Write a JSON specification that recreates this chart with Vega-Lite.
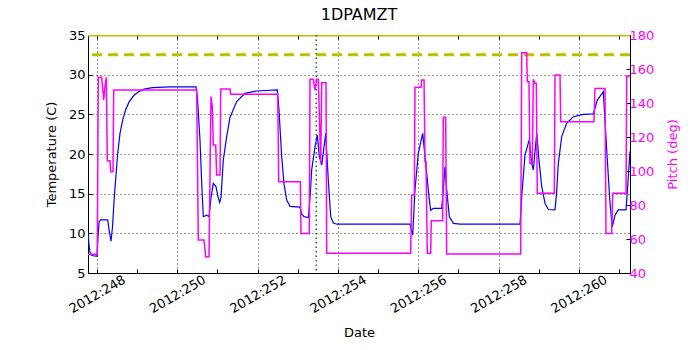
{
  "$schema": "https://vega.github.io/schema/vega-lite/v6.json",
  "width": 542,
  "height": 238,
  "autosize": {"type": "none"},
  "padding": {"left": 88, "top": 35, "right": 70, "bottom": 77},
  "background": "white",
  "title": {"text": "1DPAMZT", "fontSize": 16, "font": "DejaVu Sans", "fontWeight": "normal", "offset": 6, "color": "black"},
  "config": {
    "font": "DejaVu Sans",
    "view": {"stroke": "black", "strokeWidth": 1},
    "axis": {
      "labelFont": "DejaVu Sans", "titleFont": "DejaVu Sans",
      "labelFontSize": 13, "titleFontSize": 13, "titleFontWeight": "normal",
      "labelColor": "black", "titleColor": "black",
      "domain": false, "tickColor": "black", "tickSize": -4, "tickWidth": 1,
      "gridColor": "black", "gridDash": [1, 3], "gridOpacity": 1, "gridWidth": 0.8,
      "labelOverlap": false, "labelFlush": false
    }
  },
  "datasets": {
    "temp": [
      {"day": 247.776, "temp": 10.2}, {"day": 247.801, "temp": 8.5}, {"day": 247.826, "temp": 7.6},
      {"day": 247.875, "temp": 7.2}, {"day": 248.0, "temp": 7.1}, {"day": 248.025, "temp": 9.5},
      {"day": 248.05, "temp": 11.4}, {"day": 248.087, "temp": 11.7}, {"day": 248.267, "temp": 11.7},
      {"day": 248.299, "temp": 10.5}, {"day": 248.349, "temp": 9.0}, {"day": 248.386, "temp": 10.8},
      {"day": 248.431, "temp": 14.6}, {"day": 248.516, "temp": 20.1}, {"day": 248.573, "temp": 22.6},
      {"day": 248.64, "temp": 24.3}, {"day": 248.715, "temp": 25.6}, {"day": 248.804, "temp": 26.6},
      {"day": 248.922, "temp": 27.4}, {"day": 249.054, "temp": 27.9}, {"day": 249.196, "temp": 28.2},
      {"day": 249.387, "temp": 28.36}, {"day": 249.801, "temp": 28.45}, {"day": 250.466, "temp": 28.45},
      {"day": 250.503, "temp": 27.0}, {"day": 250.565, "temp": 21.8}, {"day": 250.615, "temp": 15.5},
      {"day": 250.648, "temp": 12.1}, {"day": 250.732, "temp": 12.3}, {"day": 250.79, "temp": 12.1},
      {"day": 250.839, "temp": 14.5}, {"day": 250.897, "temp": 16.3}, {"day": 250.964, "temp": 15.9},
      {"day": 251.014, "temp": 14.6}, {"day": 251.056, "temp": 13.9}, {"day": 251.088, "temp": 14.5},
      {"day": 251.146, "temp": 19.25}, {"day": 251.23, "temp": 22.2}, {"day": 251.313, "temp": 24.6},
      {"day": 251.479, "temp": 26.6}, {"day": 251.686, "temp": 27.65}, {"day": 251.978, "temp": 27.94},
      {"day": 252.491, "temp": 28.07}, {"day": 252.533, "temp": 25.5}, {"day": 252.6, "temp": 19.7},
      {"day": 252.658, "temp": 16.2}, {"day": 252.725, "temp": 14.2}, {"day": 252.807, "temp": 13.4},
      {"day": 253.056, "temp": 13.3}, {"day": 253.106, "temp": 12.4}, {"day": 253.156, "temp": 12.1},
      {"day": 253.268, "temp": 12.0}, {"day": 253.318, "temp": 15.5}, {"day": 253.347, "temp": 18.0},
      {"day": 253.43, "temp": 20.9}, {"day": 253.487, "temp": 22.4}, {"day": 253.537, "temp": 19.7},
      {"day": 253.597, "temp": 18.6}, {"day": 253.696, "temp": 22.6}, {"day": 253.761, "temp": 16.7},
      {"day": 253.821, "temp": 12.1}, {"day": 253.886, "temp": 11.3}, {"day": 253.978, "temp": 11.15},
      {"day": 255.796, "temp": 11.15}, {"day": 255.863, "temp": 9.8}, {"day": 255.92, "temp": 15.5},
      {"day": 256.003, "temp": 20.1}, {"day": 256.112, "temp": 22.6}, {"day": 256.187, "temp": 18.8},
      {"day": 256.269, "temp": 14.6}, {"day": 256.311, "temp": 12.9}, {"day": 256.376, "temp": 13.15},
      {"day": 256.585, "temp": 13.15}, {"day": 256.625, "temp": 15.5}, {"day": 256.668, "temp": 18.4},
      {"day": 256.71, "temp": 15.5}, {"day": 256.775, "temp": 12.1}, {"day": 256.874, "temp": 11.25},
      {"day": 257.041, "temp": 11.15}, {"day": 258.536, "temp": 11.15}, {"day": 258.578, "temp": 14.6},
      {"day": 258.66, "temp": 19.9}, {"day": 258.767, "temp": 21.8}, {"day": 258.827, "temp": 18.8},
      {"day": 258.867, "temp": 18.0}, {"day": 258.952, "temp": 22.6}, {"day": 259.009, "temp": 19.2},
      {"day": 259.076, "temp": 15.9}, {"day": 259.158, "temp": 13.8}, {"day": 259.241, "temp": 13.0},
      {"day": 259.407, "temp": 12.95}, {"day": 259.445, "temp": 15.0}, {"day": 259.49, "temp": 18.8},
      {"day": 259.574, "temp": 22.2}, {"day": 259.699, "temp": 23.9}, {"day": 259.863, "temp": 24.7},
      {"day": 260.112, "temp": 25.0}, {"day": 260.361, "temp": 25.05}, {"day": 260.461, "temp": 26.8},
      {"day": 260.61, "temp": 27.85}, {"day": 260.695, "temp": 20.5}, {"day": 260.777, "temp": 13.8},
      {"day": 260.834, "temp": 10.8}, {"day": 260.902, "temp": 12.3}, {"day": 260.984, "temp": 12.95},
      {"day": 261.176, "temp": 12.95}, {"day": 261.233, "temp": 17.1}, {"day": 261.275, "temp": 20.3}
    ],
    "pitch": [
      {"day": 247.776, "pitch": 51}, {"day": 248.007, "pitch": 51}, {"day": 248.032, "pitch": 155.1},
      {"day": 248.117, "pitch": 155.1}, {"day": 248.167, "pitch": 141.8}, {"day": 248.199, "pitch": 150},
      {"day": 248.232, "pitch": 155.1}, {"day": 248.257, "pitch": 106.1}, {"day": 248.324, "pitch": 106.1},
      {"day": 248.341, "pitch": 99.6}, {"day": 248.398, "pitch": 99.6}, {"day": 248.416, "pitch": 147.6},
      {"day": 250.483, "pitch": 147.6}, {"day": 250.523, "pitch": 59.4}, {"day": 250.665, "pitch": 59.4},
      {"day": 250.707, "pitch": 49.6}, {"day": 250.79, "pitch": 49.6}, {"day": 250.839, "pitch": 143.7},
      {"day": 250.872, "pitch": 137.8}, {"day": 250.897, "pitch": 115.3}, {"day": 250.956, "pitch": 115.3},
      {"day": 250.981, "pitch": 97.6}, {"day": 251.064, "pitch": 97.6}, {"day": 251.081, "pitch": 148.2},
      {"day": 251.313, "pitch": 148.2}, {"day": 251.33, "pitch": 145.1}, {"day": 252.501, "pitch": 145.1},
      {"day": 252.526, "pitch": 93.7}, {"day": 253.064, "pitch": 93.7}, {"day": 253.081, "pitch": 63.3},
      {"day": 253.288, "pitch": 63.3}, {"day": 253.305, "pitch": 153.9}, {"day": 253.387, "pitch": 153.9},
      {"day": 253.43, "pitch": 147.6}, {"day": 253.472, "pitch": 153.9}, {"day": 253.512, "pitch": 153.9},
      {"day": 253.572, "pitch": 104.5}, {"day": 253.597, "pitch": 151.9}, {"day": 253.704, "pitch": 151.9},
      {"day": 253.721, "pitch": 51.6}, {"day": 255.813, "pitch": 51.6}, {"day": 255.838, "pitch": 85.9},
      {"day": 255.903, "pitch": 85.9}, {"day": 255.92, "pitch": 149.2}, {"day": 256.07, "pitch": 149.2},
      {"day": 256.087, "pitch": 153.5}, {"day": 256.145, "pitch": 153.5}, {"day": 256.17, "pitch": 105.5},
      {"day": 256.194, "pitch": 105.5}, {"day": 256.227, "pitch": 51.6}, {"day": 256.311, "pitch": 51.6},
      {"day": 256.326, "pitch": 70.8}, {"day": 256.609, "pitch": 70.8}, {"day": 256.625, "pitch": 131.6},
      {"day": 256.684, "pitch": 131.6}, {"day": 256.709, "pitch": 51.2}, {"day": 258.552, "pitch": 51.2},
      {"day": 258.578, "pitch": 169.6}, {"day": 258.702, "pitch": 169.6}, {"day": 258.717, "pitch": 152.5},
      {"day": 258.759, "pitch": 152.5}, {"day": 258.784, "pitch": 104.5}, {"day": 258.842, "pitch": 104.5},
      {"day": 258.867, "pitch": 153.9}, {"day": 258.909, "pitch": 151.6}, {"day": 258.942, "pitch": 151.6},
      {"day": 258.966, "pitch": 86.9}, {"day": 259.39, "pitch": 86.9}, {"day": 259.407, "pitch": 156.5},
      {"day": 259.532, "pitch": 156.5}, {"day": 259.549, "pitch": 129.0}, {"day": 260.378, "pitch": 129.0},
      {"day": 260.403, "pitch": 148.6}, {"day": 260.652, "pitch": 148.6}, {"day": 260.677, "pitch": 63.3},
      {"day": 260.819, "pitch": 63.3}, {"day": 260.844, "pitch": 86.9}, {"day": 261.176, "pitch": 86.9},
      {"day": 261.193, "pitch": 155.9}, {"day": 261.275, "pitch": 155.9}
    ],
    "limits": [{"temp": 32.5, "kind": "planning"}],
    "edge": [{"temp": 35, "kind": "caution"}],
    "marker": [{"day": 253.46}]
  },
  "layer": [
    {
      "layer": [
        {
          "data": {"name": "temp"},
          "mark": {"type": "line", "color": "#0000ff", "strokeWidth": 1.2, "clip": true},
          "encoding": {
            "x": {
              "field": "day", "type": "quantitative",
              "scale": {"domain": [247.776, 261.275], "nice": false, "zero": false},
              "axis": {
                "orient": "bottom", "title": "Date",
                "values": [248, 249, 250, 251, 252, 253, 254, 255, 256, 257, 258, 259, 260, 261],
                "labelExpr": "datum.value % 2 === 0 ? '2012:' + datum.value : ''",
                "labelAngle": -30, "labelAlign": "center", "labelBaseline": "middle",
                "labelPadding": 25, "titlePadding": 11,
                "grid": true,
                "gridOpacity": {"condition": {"test": "datum.value % 2 === 0", "value": 1}, "value": 0}
              }
            },
            "y": {
              "field": "temp", "type": "quantitative",
              "scale": {"domain": [5, 35], "nice": false, "zero": false},
              "axis": {"orient": "left", "title": "Temperature (C)", "values": [5, 10, 15, 20, 25, 30, 35], "grid": true, "labelPadding": 7, "titlePadding": 10}
            }
          }
        },
        {
          "data": {"name": "limits"},
          "mark": {"type": "rule", "color": "#bfbf00", "strokeWidth": 3, "strokeDash": [10, 6], "clip": true},
          "encoding": {
            "y": {
              "field": "temp", "type": "quantitative",
              "scale": {"domain": [5, 35], "nice": false, "zero": false},
              "axis": {"orient": "left", "title": "Temperature (C)", "values": [5, 10, 15, 20, 25, 30, 35], "grid": true, "labelPadding": 7, "titlePadding": 10}
            }
          }
        },
        {
          "data": {"name": "edge"},
          "mark": {"type": "rule", "color": "#bfbf00", "strokeWidth": 3, "clip": true},
          "encoding": {
            "y": {
              "field": "temp", "type": "quantitative",
              "scale": {"domain": [5, 35], "nice": false, "zero": false},
              "axis": {"orient": "left", "title": "Temperature (C)", "values": [5, 10, 15, 20, 25, 30, 35], "grid": true, "labelPadding": 7, "titlePadding": 10}
            }
          }
        },
        {
          "data": {"name": "marker"},
          "mark": {"type": "rule", "color": "#008000", "strokeWidth": 1.5, "strokeDash": [1.5, 3], "clip": true},
          "encoding": {
            "x": {
              "field": "day", "type": "quantitative",
              "scale": {"domain": [247.776, 261.275], "nice": false, "zero": false},
              "axis": {
                "orient": "bottom", "title": "Date",
                "values": [248, 249, 250, 251, 252, 253, 254, 255, 256, 257, 258, 259, 260, 261],
                "labelExpr": "datum.value % 2 === 0 ? '2012:' + datum.value : ''",
                "labelAngle": -30, "labelAlign": "center", "labelBaseline": "middle",
                "labelPadding": 25, "titlePadding": 11,
                "grid": true,
                "gridOpacity": {"condition": {"test": "datum.value % 2 === 0", "value": 1}, "value": 0}
              }
            }
          }
        }
      ]
    },
    {
      "data": {"name": "pitch"},
      "mark": {"type": "line", "color": "#ff00ff", "strokeWidth": 1.5, "clip": true},
      "encoding": {
        "x": {
          "field": "day", "type": "quantitative",
          "scale": {"domain": [247.776, 261.275], "nice": false, "zero": false},
          "axis": {"orient": "top", "title": null, "labels": false, "grid": false,
                   "values": [248, 249, 250, 251, 252, 253, 254, 255, 256, 257, 258, 259, 260, 261]}
        },
        "y": {
          "field": "pitch", "type": "quantitative",
          "scale": {"domain": [40, 180], "nice": false, "zero": false},
          "axis": {"orient": "right", "title": "Pitch (deg)", "values": [40, 60, 80, 100, 120, 140, 160, 180],
                   "grid": false, "labelColor": "#ff00ff", "titleColor": "#ff00ff", "labelPadding": 3,
                   "titlePadding": 13, "titleAngle": 270, "titleBaseline": "top"}
        }
      }
    }
  ],
  "resolve": {"scale": {"y": "independent"}, "axis": {"x": "independent"}}
}
